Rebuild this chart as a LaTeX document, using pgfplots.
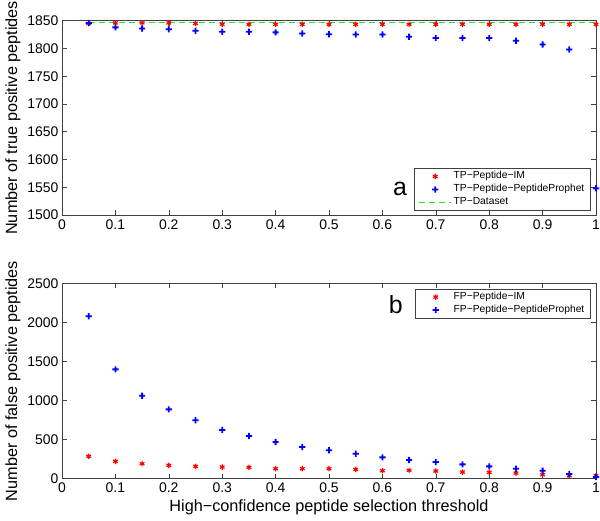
\documentclass[border=0pt]{standalone}
\usepackage{pgfplots}
\pgfplotsset{compat=1.18}
\usepackage{fontspec}
\setmainfont{Liberation Sans}
\definecolor{mred}{rgb}{1,0,0}
\definecolor{mblue}{rgb}{0,0,1}
\definecolor{mgreen}{rgb}{0.15,0.9,0.15}
\definecolor{frame}{gray}{0.25}
\pgfdeclareplotmark{bplus}{%
  \pgfpathrectangle{\pgfpoint{-\pgfplotmarksize}{-0.9bp}}{\pgfpoint{2\pgfplotmarksize}{1.8bp}}%
  \pgfpathrectangle{\pgfpoint{-0.9bp}{-\pgfplotmarksize}}{\pgfpoint{1.8bp}{2\pgfplotmarksize}}%
  \pgfusepathqfill}
\pgfplotsset{
  mstyle/.style={
    scale only axis, width=534bp,
    xmin=0, xmax=1,
    xtick={0,0.1,0.2,0.3,0.4,0.5,0.6,0.7,0.8,0.9,1},
    xticklabels={0,0.1,0.2,0.3,0.4,0.5,0.6,0.7,0.8,0.9,1},
    tick align=inside, tick pos=both,
    major tick length=5bp,
    axis line style={frame, line width=0.8bp},
    every tick/.style={frame, line width=0.6bp},
    /pgf/number format/assume math mode=true,
    /pgf/number format/1000 sep={},
    tick label style={font=\fontsize{14}{16}\selectfont},
    label style={font=\fontsize{16.3}{18}\selectfont},
    xticklabel style={yshift=-1bp},
    legend style={font=\fontsize{10.3}{12}\selectfont, draw=frame, line width=0.6bp,
      row sep=0bp, inner xsep=4bp, inner ysep=1.5bp,
      nodes={inner xsep=2bp, inner ysep=0bp, text height=8.6bp, text depth=4.4bp}},
    legend cell align=left,
    legend image code/.code={\draw[#1] (0bp,0bp) -- (32bp,0bp);},
  },
  mkleg/.style={legend image code/.code={\path[draw=none,fill=none] (0bp,-2bp) rectangle (32bp,2bp);\draw[mark repeat=2,mark phase=2,##1] plot coordinates {(0bp,0bp)(16bp,0bp)(32bp,0bp)};}},
  imst/.style={only marks, mark=asterisk, color=mred, mark size=2.7bp, line width=1.2bp, mkleg},
  ppst/.style={only marks, mark=bplus, color=mblue, mark size=3.1bp, mkleg},
}
\begin{document}
\begin{tikzpicture}
\begin{axis}[mstyle, name=top, at={(0bp,263.7bp)}, anchor=south west,
  height=194.3bp, ymin=1500, ymax=1850, ytick={1500,1550,...,1850},
  ylabel={Number of true positive peptides},
  legend style={at={(0.99,0.022)}, anchor=south east},
  clip=false]
\addplot[imst] coordinates {
(0.05,1845)(0.10,1846)(0.15,1846)(0.20,1846)(0.25,1845)(0.30,1843.5)(0.35,1843.5)(0.40,1843.5)(0.45,1843.5)(0.50,1843.5)
(0.55,1843.5)(0.60,1843.5)(0.65,1843.5)(0.70,1843.5)(0.75,1843.5)(0.80,1843.5)(0.85,1843.5)(0.90,1843.5)(0.95,1843.5)(1.00,1843.5)};
\addlegendentry{TP−Peptide−IM}
\addplot[ppst] coordinates {
(0.05,1846)(0.10,1838)(0.15,1836)(0.20,1834.5)(0.25,1832)(0.30,1830)(0.35,1830)(0.40,1829)(0.45,1827)(0.50,1825.5)
(0.55,1825)(0.60,1825)(0.65,1821)(0.70,1819)(0.75,1819)(0.80,1819)(0.85,1814)(0.90,1807)(0.95,1798)(1.00,1548)};
\addlegendentry{TP−Peptide−PeptideProphet}
\addplot[mgreen, line width=1.1bp, dash pattern=on 6bp off 4bp] coordinates {(0.05,1846.5)(1.00,1846.5)};
\addlegendentry{TP−Dataset}
\node[font=\fontsize{25}{28}\selectfont, anchor=base] at (axis cs:0.633,1536) {a};
\end{axis}
\begin{axis}[mstyle, name=bot, at={(0bp,0bp)}, anchor=south west,
  height=195.4bp, ymin=0, ymax=2500, ytick={0,500,...,2500},
  ylabel={Number of false positive peptides},
  xlabel={High−confidence peptide selection threshold},
  legend style={at={(0.99,0.972)}, anchor=north east},
  clip=false]
\addplot[imst] coordinates {
(0.05,286)(0.10,222)(0.15,192)(0.20,171)(0.25,158)(0.30,149)(0.35,145)(0.40,128)(0.45,128)(0.50,128)
(0.55,119)(0.60,102)(0.65,107)(0.70,98)(0.75,85)(0.80,81)(0.85,72)(0.90,51)(0.95,38)(1.00,38)};
\addlegendentry{FP−Peptide−IM}
\addplot[ppst] coordinates {
(0.05,2078)(0.10,1399)(0.15,1062)(0.20,887)(0.25,747)(0.30,623)(0.35,546)(0.40,469)(0.45,405)(0.50,363)
(0.55,320)(0.60,273)(0.65,239)(0.70,213)(0.75,183)(0.80,158)(0.85,128)(0.90,102)(0.95,60)(1.00,21)};
\addlegendentry{FP−Peptide−PeptideProphet}
\node[font=\fontsize{25}{28}\selectfont, anchor=base] at (axis cs:0.625,2115) {b};
\end{axis}
\pgfresetboundingbox
\useasboundingbox (-62bp,-42.3bp) rectangle (538bp,478.7bp);
\end{tikzpicture}
\end{document}
